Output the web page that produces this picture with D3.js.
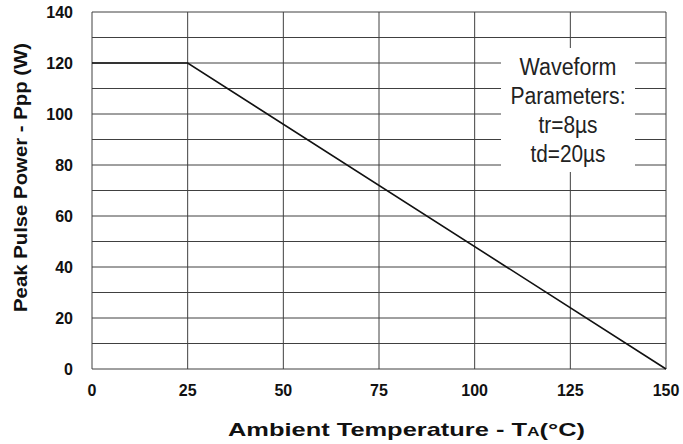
<!DOCTYPE html>
<html>
<head>
<meta charset="utf-8">
<script src="https://cdn.jsdelivr.net/npm/d3@7"></script>
<style>
  body { margin: 0; background: #fff; }
  svg { display: block; }
</style>
</head>
<body>
<svg id="chart" width="683" height="444"></svg>
<script>
// derating curve
const tempC = [0, 25, 150];
const powerW = [120, 120, 0];
const xTicks = [0, 25, 50, 75, 100, 125, 150];
const yTicks = [0, 20, 40, 60, 80, 100, 120, 140];
const yGrid = d3.range(0, 141, 10);
const noteLines = ['Waveform', 'Parameters:', 'tr=8\u00b5s', 'td=20\u00b5s'];
const noteWidths = [97, 115, 59, 75];

const svg = d3.select('#chart');
const plot = { left: 92, right: 666, top: 12, bottom: 369 };

const x = d3.scaleLinear().domain([0, 150]).range([plot.left, plot.right]);
const y = d3.scaleLinear().domain([0, 140]).range([plot.bottom, plot.top]);

const gridColor = '#404040';

// grid
const grid = svg.append('g');
grid.selectAll('line.h').data(yGrid).enter().append('line')
  .attr('x1', plot.left).attr('x2', plot.right)
  .attr('y1', d => y(d)).attr('y2', d => y(d))
  .attr('stroke', gridColor).attr('stroke-width', 1);
grid.selectAll('line.v').data(xTicks).enter().append('line')
  .attr('y1', plot.top).attr('y2', plot.bottom)
  .attr('x1', d => x(d)).attr('x2', d => x(d))
  .attr('stroke', gridColor).attr('stroke-width', 1);

// note box (white patch over the grid)
const note = svg.append('g');
note.append('rect')
  .attr('x', 501).attr('y', 48).attr('width', 134).attr('height', 124)
  .attr('fill', '#fff');
note.selectAll('text').data(noteLines).enter().append('text')
  .attr('x', 568)
  .attr('y', (d, i) => 75 + i * 29)
  .attr('text-anchor', 'middle')
  .attr('font-family', '"Liberation Sans Narrow", "Liberation Sans", Arial, sans-serif')
  .attr('font-size', 23)
  .attr('fill', '#222')
  .attr('textLength', (d, i) => noteWidths[i])
  .attr('lengthAdjust', 'spacingAndGlyphs')
  .text(d => d);

// curve
const line = d3.line().x((d, i) => x(tempC[i])).y(d => y(d));
svg.append('path')
  .datum(powerW)
  .attr('d', line)
  .attr('fill', 'none')
  .attr('stroke', '#111')
  .attr('stroke-width', 1.6);

// tick labels
const tickFont = 'Arial, "Liberation Sans", sans-serif';
svg.append('g').selectAll('text').data(yTicks).enter().append('text')
  .attr('x', 73)
  .attr('y', d => y(d))
  .attr('dy', '0.35em')
  .attr('text-anchor', 'end')
  .attr('font-family', tickFont)
  .attr('font-weight', 'bold')
  .attr('font-size', 16)
  .attr('fill', '#111')
  .text(d => d);

svg.append('g').selectAll('text').data(xTicks).enter().append('text')
  .attr('x', d => x(d))
  .attr('y', 390)
  .attr('dy', '0.35em')
  .attr('text-anchor', 'middle')
  .attr('font-family', tickFont)
  .attr('font-weight', 'bold')
  .attr('font-size', 16)
  .attr('fill', '#111')
  .text(d => d);

// axis titles
const xTitle = svg.append('text')
  .attr('x', 228)
  .attr('y', 436)
  .attr('font-family', tickFont)
  .attr('font-weight', 'bold')
  .attr('font-size', 19)
  .attr('fill', '#111')
  .attr('textLength', 357)
  .attr('lengthAdjust', 'spacingAndGlyphs');
xTitle.append('tspan').text('Ambient Temperature - T');
xTitle.append('tspan').attr('font-size', 13).text('A');
xTitle.append('tspan').text('(\u00b0C)');

svg.append('text')
  .attr('transform', 'translate(27,312) rotate(-90)')
  .attr('font-family', tickFont)
  .attr('font-weight', 'bold')
  .attr('font-size', 19)
  .attr('fill', '#111')
  .attr('textLength', 269)
  .attr('lengthAdjust', 'spacingAndGlyphs')
  .text('Peak Pulse Power - Ppp (W)');
</script>
</body>
</html>
